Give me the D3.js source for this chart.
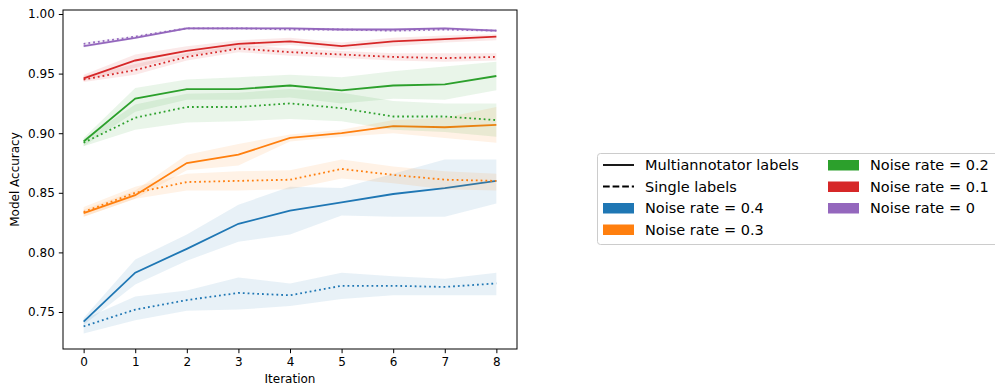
<!DOCTYPE html>
<html>
<head>
<meta charset="utf-8">
<script src="https://cdn.jsdelivr.net/npm/d3@7"></script>
<style>
  body { margin: 0; background: white; }
  text { font-family: "DejaVu Sans", sans-serif; fill: #000; }
</style>
</head>
<body>
<script>
// model accuracy vs iteration, multiannotator vs single labels

let iterations = [0, 1, 2, 3, 4, 5, 6, 7, 8]
let noiseRates = ['0.4', '0.3', '0.2', '0.1', '0']
let colors = ['#1f77b4', '#ff7f0e', '#2ca02c', '#d62728', '#9467bd']
let yTicks = [0.75, 0.80, 0.85, 0.90, 0.95, 1.00]

// noise rate 0.4
let multi04   = [0.742, 0.783, 0.803, 0.824, 0.835, 0.842, 0.849, 0.854, 0.860]
let multi04Lo = [0.739, 0.773, 0.793, 0.809, 0.815, 0.831, 0.830, 0.830, 0.841]
let multi04Hi = [0.745, 0.794, 0.815, 0.840, 0.855, 0.854, 0.866, 0.878, 0.878]
let single04   = [0.738, 0.752, 0.760, 0.766, 0.764, 0.772, 0.772, 0.771, 0.774]
let single04Lo = [0.732, 0.743, 0.751, 0.752, 0.755, 0.761, 0.764, 0.764, 0.764]
let single04Hi = [0.744, 0.763, 0.768, 0.779, 0.774, 0.783, 0.780, 0.778, 0.783]

// noise rate 0.3
let multi03   = [0.833, 0.848, 0.875, 0.882, 0.896, 0.900, 0.906, 0.905, 0.907]
let multi03Lo = [0.830, 0.845, 0.869, 0.873, 0.893, 0.897, 0.900, 0.896, 0.892]
let multi03Hi = [0.836, 0.852, 0.882, 0.891, 0.899, 0.903, 0.911, 0.913, 0.922]
let single03   = [0.834, 0.850, 0.859, 0.860, 0.861, 0.870, 0.865, 0.861, 0.860]
let single03Lo = [0.830, 0.845, 0.852, 0.852, 0.853, 0.862, 0.858, 0.853, 0.852]
let single03Hi = [0.838, 0.855, 0.866, 0.868, 0.869, 0.878, 0.872, 0.868, 0.866]

// noise rate 0.2
let multi02   = [0.893, 0.929, 0.937, 0.937, 0.940, 0.936, 0.940, 0.941, 0.948]
let multi02Lo = [0.889, 0.918, 0.928, 0.928, 0.930, 0.925, 0.929, 0.928, 0.936]
let multi02Hi = [0.896, 0.938, 0.945, 0.947, 0.949, 0.947, 0.952, 0.956, 0.960]
let single02   = [0.892, 0.913, 0.922, 0.922, 0.925, 0.921, 0.914, 0.914, 0.911]
let single02Lo = [0.889, 0.903, 0.909, 0.910, 0.912, 0.910, 0.903, 0.901, 0.897]
let single02Hi = [0.895, 0.924, 0.933, 0.934, 0.937, 0.934, 0.927, 0.925, 0.925]

// noise rate 0.1
let multi01   = [0.946, 0.961, 0.969, 0.975, 0.977, 0.973, 0.977, 0.979, 0.981]
let multi01Lo = [0.944, 0.955, 0.965, 0.971, 0.974, 0.970, 0.973, 0.976, 0.978]
let multi01Hi = [0.949, 0.966, 0.973, 0.978, 0.980, 0.976, 0.980, 0.982, 0.983]
let single01   = [0.945, 0.953, 0.964, 0.971, 0.968, 0.966, 0.964, 0.963, 0.964]
let single01Lo = [0.943, 0.949, 0.961, 0.968, 0.965, 0.963, 0.961, 0.960, 0.961]
let single01Hi = [0.948, 0.958, 0.967, 0.974, 0.971, 0.969, 0.967, 0.967, 0.967]

// noise rate 0
let multi00   = [0.973, 0.980, 0.988, 0.988, 0.988, 0.987, 0.987, 0.988, 0.986]
let multi00Lo = [0.972, 0.979, 0.987, 0.987, 0.987, 0.986, 0.986, 0.987, 0.985]
let multi00Hi = [0.974, 0.981, 0.989, 0.989, 0.989, 0.988, 0.988, 0.989, 0.987]
let single00   = [0.975, 0.981, 0.988, 0.988, 0.987, 0.987, 0.986, 0.987, 0.986]
let single00Lo = [0.974, 0.980, 0.987, 0.987, 0.986, 0.986, 0.985, 0.986, 0.985]
let single00Hi = [0.976, 0.982, 0.989, 0.989, 0.988, 0.988, 0.987, 0.988, 0.987]

function main(){

    let width = 995
    let height = 385
    let left = 63, right = 517, top = 10, bottom = 349

    let series = [
        [multi04, multi04Lo, multi04Hi, single04, single04Lo, single04Hi],
        [multi03, multi03Lo, multi03Hi, single03, single03Lo, single03Hi],
        [multi02, multi02Lo, multi02Hi, single02, single02Lo, single02Hi],
        [multi01, multi01Lo, multi01Hi, single01, single01Lo, single01Hi],
        [multi00, multi00Lo, multi00Hi, single00, single00Lo, single00Hi]
    ]

    let x = d3.scaleLinear()
                .domain([-0.4, 8.4])
                .range([left, right])

    let y = d3.scaleLinear()
                .domain([0.71896, 1.00336])
                .range([bottom, top])

    let svg = d3.select('body')
        .append('svg')
        .attr('width', width)
        .attr('height', height)

    let plot = svg.append('g')

    let area = d3.area()
                .x(function(d,i){ return x(iterations[i]) })
                .y0(function(d){ return y(d[0]) })
                .y1(function(d){ return y(d[1]) })

    let line = d3.line()
                .x(function(d,i){ return x(iterations[i]) })
                .y(function(d){ return y(d) })

    series.forEach(function(s, k){
        let c = colors[k]
        // bands first
        plot.append('path')
            .attr('d', area(s[1].map(function(v,i){ return [v, s[2][i]] })))
            .attr('fill', c)
            .attr('fill-opacity', 0.1)
        plot.append('path')
            .attr('d', area(s[4].map(function(v,i){ return [v, s[5][i]] })))
            .attr('fill', c)
            .attr('fill-opacity', 0.1)
        plot.append('path')
            .attr('d', line(s[0]))
            .attr('fill', 'none')
            .attr('stroke', c)
            .attr('stroke-width', 1.8)
        plot.append('path')
            .attr('d', line(s[3]))
            .attr('fill', 'none')
            .attr('stroke', c)
            .attr('stroke-width', 1.8)
            .attr('stroke-dasharray', '1.8,3')
    })

    // axes
    let xAxis = d3.axisBottom(x)
                .tickValues(iterations)
                .tickSize(4.2)
                .tickPadding(4)

    let yAxis = d3.axisLeft(y)
                .tickValues(yTicks)
                .tickFormat(d3.format('.2f'))
                .tickSize(4.2)
                .tickPadding(4)

    let gx = svg.append('g')
        .attr('transform', 'translate(0,' + bottom + ')')
        .call(xAxis)
    let gy = svg.append('g')
        .attr('transform', 'translate(' + left + ',0)')
        .call(yAxis)

    svg.selectAll('.domain').remove()
    svg.selectAll('.tick line').attr('stroke', '#000').attr('stroke-width', 1)
    svg.selectAll('.tick text')
        .style('font-family', 'DejaVu Sans, sans-serif')
        .style('font-size', '12px')
        .attr('fill', '#000')

    // frame
    svg.append('rect')
        .attr('x', left)
        .attr('y', top)
        .attr('width', right - left)
        .attr('height', bottom - top)
        .attr('fill', 'none')
        .attr('stroke', '#000')
        .attr('stroke-width', 1)

    svg.append('text')
        .attr('x', (left + right) / 2)
        .attr('y', 383)
        .attr('text-anchor', 'middle')
        .style('font-size', '12px')
        .text('Iteration')

    svg.append('text')
        .attr('transform', 'translate(19,' + (top + bottom) / 2 + ') rotate(-90)')
        .attr('text-anchor', 'middle')
        .style('font-size', '12px')
        .text('Model Accuracy')

    // legend
    let lg = svg.append('g')
    lg.append('rect')
        .attr('x', 597.5)
        .attr('y', 153.5)
        .attr('width', 420)
        .attr('height', 91)
        .attr('rx', 3)
        .attr('fill', 'white')
        .attr('fill-opacity', 0.8)
        .attr('stroke', '#cccccc')
        .attr('stroke-width', 1)

    let rowY = [165, 186.5, 208, 229.5]
    let items = [
        {col: 0, row: 0, type: 'solid', label: 'Multiannotator labels'},
        {col: 0, row: 1, type: 'dash', label: 'Single labels'},
        {col: 0, row: 2, type: 'patch', color: colors[0], label: 'Noise rate = ' + noiseRates[0]},
        {col: 0, row: 3, type: 'patch', color: colors[1], label: 'Noise rate = ' + noiseRates[1]},
        {col: 1, row: 0, type: 'patch', color: colors[2], label: 'Noise rate = ' + noiseRates[2]},
        {col: 1, row: 1, type: 'patch', color: colors[3], label: 'Noise rate = ' + noiseRates[3]},
        {col: 1, row: 2, type: 'patch', color: colors[4], label: 'Noise rate = ' + noiseRates[4]}
    ]
    let colX = [603, 828]

    items.forEach(function(it){
        let hx = colX[it.col]
        let hy = rowY[it.row]
        if (it.type === 'patch') {
            lg.append('rect')
                .attr('x', hx)
                .attr('y', hy - 5)
                .attr('width', 31)
                .attr('height', 10.5)
                .attr('fill', it.color)
        } else {
            lg.append('line')
                .attr('x1', hx)
                .attr('x2', hx + 31)
                .attr('y1', hy)
                .attr('y2', hy)
                .attr('stroke', '#000')
                .attr('stroke-width', 1.8)
                .attr('stroke-dasharray', it.type === 'dash' ? '6.7,2.9' : null)
        }
        lg.append('text')
            .attr('x', hx + 42)
            .attr('y', hy)
            .attr('dy', '0.36em')
            .style('font-size', '14.5px')
            .text(it.label)
    })
}

main()
</script>
</body>
</html>
